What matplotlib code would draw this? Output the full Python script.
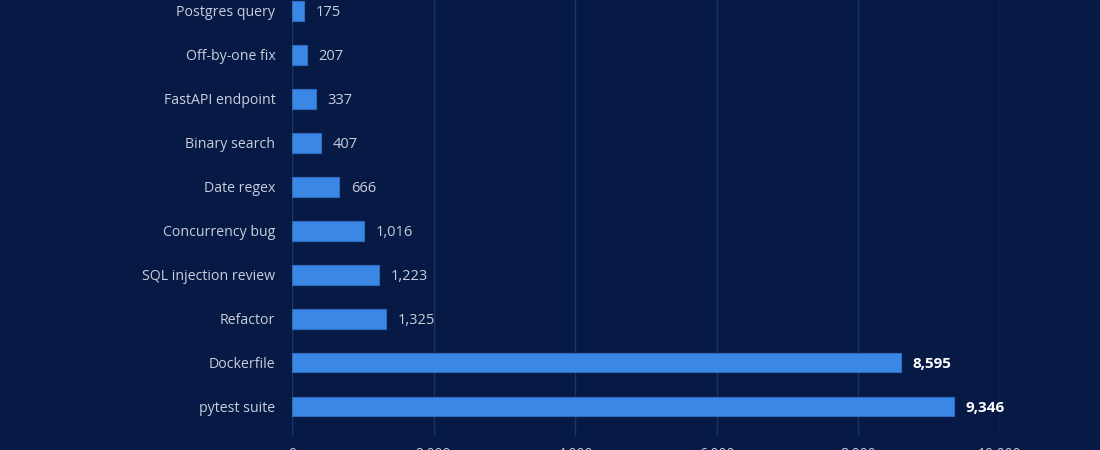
import matplotlib.pyplot as plt
from matplotlib.ticker import FuncFormatter

tasks = ['Postgres query', 'Off-by-one fix', 'FastAPI endpoint', 'Binary search',
         'Date regex', 'Concurrency bug', 'SQL injection review', 'Refactor',
         'Dockerfile', 'pytest suite']
tokens = [175, 207, 337, 407, 666, 1016, 1223, 1325, 8595, 9346]
x_ticks = [0, 2000, 4000, 6000, 8000, 10000]

bg = '#061a45'
bar_color = '#3a87e6'
text_color = '#c9cfdb'

plt.rcParams['font.family'] = ['Open Sans', 'DejaVu Sans']

fig = plt.figure(figsize=(11, 4.5), dpi=100, facecolor=bg)
# axes spans 292..1000 px horizontally; bottom at 436 px, top above the image
ax = fig.add_axes([292 / 1100, (450 - 436) / 450, 708 / 1100, 454.5 / 450])
ax.set_facecolor(bg)

pos = list(range(len(tasks)))
ax.barh(pos, tokens, height=0.45, color=bar_color, edgecolor='#2f6cc0', linewidth=0.8, zorder=3)

for p, v in zip(pos, tokens):
    big = v > 5000
    ax.text(v + 165, p, f'{v:,}', va='center_baseline', ha='left',
            fontsize=11 if big else 10.5,
            fontweight='bold' if big else 'normal',
            color='white' if big else text_color, zorder=4)

ax.set_yticks(pos)
ax.set_yticklabels(tasks)
ax.set_ylim(9 + 0.67, -0.67)
ax.set_xlim(0, 10000)
ax.set_xticks(x_ticks)
ax.xaxis.set_major_formatter(FuncFormatter(lambda v, _: f'{int(v):,}'))

ax.tick_params(axis='y', length=0, pad=12, labelsize=10.2, labelcolor=text_color)
ax.tick_params(axis='x', length=0, pad=8, labelsize=10, labelcolor=text_color)
for lab in ax.get_yticklabels():
    lab.set_verticalalignment('center_baseline')
ax.grid(axis='x', color='#1e3463', linewidth=1, zorder=0)
for s in ax.spines.values():
    s.set_visible(False)

fig.savefig('out.png', dpi=100, facecolor=bg)
